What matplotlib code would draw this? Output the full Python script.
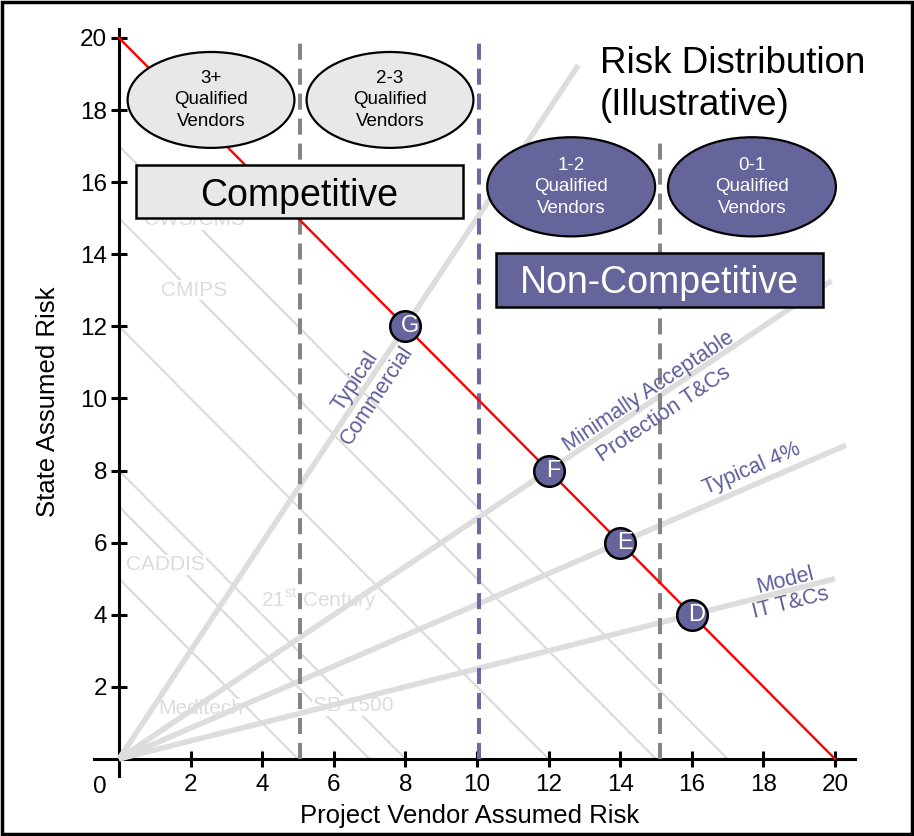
import matplotlib
matplotlib.use('Agg')
import matplotlib.pyplot as plt
from matplotlib.patches import Ellipse, Rectangle

plt.rcParams['font.family'] = ['Liberation Sans', 'DejaVu Sans']
plt.rcParams['mathtext.fontset'] = 'custom'
plt.rcParams['mathtext.rm'] = 'Liberation Sans'

# ---------------- data ----------------
point_labels = ['G', 'F', 'E', 'D']
vendor_risk = [8, 12, 14, 16]
state_risk = [12, 8, 6, 4]
ray_end_x = [12.83, 19.9, 20.3, 20.0]
ray_labels = ['Typical\nCommercial', 'Minimally Acceptable\nProtection T&Cs',
              'Typical 4%', 'Model\nIT T&Cs']
ray_label_x = [6.9, 15.0, 17.68, 18.69]
ray_label_y = [10.29, 9.88, 8.04, 4.63]
ray_label_rot = [56.3, 33.7, 23.2, 14.0]
ray_label_spacing = [1.3, 1.35, 1.0, 1.15]
total_risk = 20
iso_risk_levels = [5, 7, 8, 12, 15, 17]
systems = ['CWS/CMS', 'CMIPS', 'CADDIS', '21$^{\\mathrm{st}}$ Century', 'Medltech', 'SB 1500']
system_x = [2.1, 2.1, 1.31, 5.6, 2.27, 6.54]
system_y = [14.95, 13.0, 5.38, 4.4, 1.39, 1.47]
thresholds = [5.05, 10.05, 15.1]
threshold_top = [19.95, 19.95, 17.3]
threshold_colors = ['#858585', '#6B6BA3', '#858585']
vendor_groups = ['3+\nQualified\nVendors', '2-3\nQualified\nVendors',
                 '1-2\nQualified\nVendors', '0-1\nQualified\nVendors']
group_x = [2.57, 7.57, 12.63, 17.68]
group_y = [18.28, 18.28, 15.87, 15.87]
xticks = list(range(2, 21, 2))
yticks = list(range(2, 21, 2))

NAVY = '#65659B'
LABEL_NAVY = '#5E5E9A'
LIGHT = '#DADADA'

fig = plt.figure(figsize=(9.14, 8.36), dpi=100)
ax = fig.add_axes([0.0832, 0.062, 0.8617, 0.9142])
ax.set_xlim(-1.2, 20.8)
ax.set_ylim(-0.7, 20.5)

# iso-risk thin lines
for c in iso_risk_levels:
    ax.plot([0, c], [c, 0], color=LIGHT, lw=1.5, zorder=1, solid_capstyle='butt')

# system labels
for s, x, y in zip(systems, system_x, system_y):
    ax.text(x, y, s, fontsize=15, color='#DCDCDC', ha='center', va='center', zorder=2,
            bbox=dict(facecolor='white', edgecolor='none', pad=0.5))

# rays from origin
for vx, sy, xe in zip(vendor_risk, state_risk, ray_end_x):
    ax.plot([0, xe], [0, xe * sy / vx], color='#DDDDDD', lw=4.0, zorder=3,
            solid_capstyle='butt')

# threshold dashed lines
for t, top, col in zip(thresholds, threshold_top, threshold_colors):
    ax.plot([t, t], [0, top], color=col, lw=2.9, dashes=(4.0, 2.2), zorder=4)

# total risk line
ax.plot([0, total_risk], [total_risk, 0], color='#FF0000', lw=1.7, zorder=4)

# ray labels
for lab, x, y, r, ls in zip(ray_labels, ray_label_x, ray_label_y, ray_label_rot,
                            ray_label_spacing):
    ax.text(x, y, lab, fontsize=15.5, color=LABEL_NAVY, rotation=r, ha='center', va='center',
            rotation_mode='anchor', multialignment='center', linespacing=ls, zorder=5)

# vendor group ellipses
for i, (g, x, y) in enumerate(zip(vendor_groups, group_x, group_y)):
    comp = i < 2
    w, h = (4.66, 2.66) if comp else (4.69, 2.75)
    e = Ellipse((x, y), w, h, facecolor='#E8E8E8' if comp else NAVY,
                edgecolor='black', lw=1.6, zorder=6)
    ax.add_patch(e)
    ax.text(x, y, g, fontsize=13.5, color='black' if comp else 'white', ha='center',
            va='center', linespacing=1.36, zorder=7)

# category boxes
ax.add_patch(Rectangle((0.47, 15.0), 9.14, 1.48, facecolor='#E8E8E8', edgecolor='black',
                       lw=1.8, zorder=6))
ax.text(5.02, 15.62, 'Competitive', fontsize=27, ha='center', va='center', zorder=7)
ax.add_patch(Rectangle((10.53, 12.54), 9.13, 1.5, facecolor=NAVY, edgecolor='black',
                       lw=1.8, zorder=6))
ax.text(15.1, 13.19, 'Non-Competitive', fontsize=27, color='white', ha='center',
        va='center', zorder=7)

# title
ax.text(13.44, 19.28, 'Risk Distribution', fontsize=26.5, ha='left', va='center', zorder=7)
ax.text(13.44, 18.12, '(Illustrative)', fontsize=26.5, ha='left', va='center', zorder=7)

# points
ax.plot(vendor_risk, state_risk, 'o', ms=22, mfc=NAVY, mec='black', mew=1.8, zorder=8)
for lab, x, y in zip(point_labels, vendor_risk, state_risk):
    ax.text(x + 0.13, y, lab, fontsize=17, color='white', ha='center', va='center', zorder=9)

# axes styling
for s in ['top', 'right']:
    ax.spines[s].set_visible(False)
ax.spines['left'].set_position(('data', 0))
ax.spines['bottom'].set_position(('data', 0))
ax.spines['left'].set_bounds(-0.47, 20.25)
ax.spines['bottom'].set_bounds(-0.7, 20.55)
for s in ['left', 'bottom']:
    ax.spines[s].set_linewidth(2.2)
ax.set_xticks(xticks)
ax.set_yticks(yticks)
ax.tick_params(direction='inout', length=11, width=2.2, labelsize=17.5, pad=3)
ax.tick_params(axis='x', pad=5)
ax.text(-0.53, -0.78, '0', fontsize=17.5, ha='center', va='center')
ax.set_xlabel('Project Vendor Assumed Risk', fontsize=18.5)
ax.set_ylabel('State Assumed Risk', fontsize=18.5)
ax.xaxis.set_label_coords(0.5, -0.026)
ax.xaxis.label.set_va('top')
ax.yaxis.set_label_coords(-0.021, 0.5)
ax.patch.set_visible(False)

fig.patches.append(Rectangle((0.002, 0.002), 0.996, 0.996, transform=fig.transFigure,
                             fill=False, edgecolor='black', lw=2.5))

fig.savefig('out.png', dpi=100)
